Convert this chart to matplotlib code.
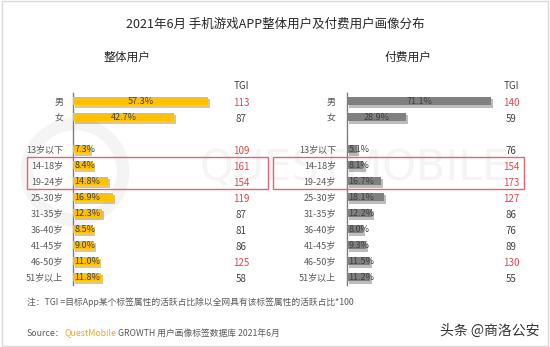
import matplotlib
matplotlib.use('Agg')
import matplotlib.pyplot as plt
import matplotlib.patheffects as pe
from matplotlib.patches import Rectangle, Circle
from matplotlib.transforms import blended_transform_factory

plt.rcParams['font.family'] = ['Noto Sans CJK SC', 'DejaVu Sans']

# data
categories = ['男', '女', '13岁以下', '14-18岁', '19-24岁', '25-30岁', '31-35岁',
              '36-40岁', '41-45岁', '46-50岁', '51岁以上']
rows = [0, 1, 3, 4, 5, 6, 7, 8, 9, 10, 11]
all_share = [57.3, 42.7, 7.3, 8.4, 14.8, 16.9, 12.3, 8.5, 9.0, 11.0, 11.8]
all_tgi = [113, 87, 109, 161, 154, 119, 87, 81, 86, 125, 58]
pay_share = [71.1, 28.9, 5.1, 8.1, 16.7, 18.1, 12.2, 8.0, 9.3, 11.5, 11.2]
pay_tgi = [140, 59, 76, 154, 173, 127, 86, 76, 89, 130, 55]

W, H = 550, 347
GREY = '#595959'
RED = '#E0474C'

fig = plt.figure(figsize=(5.5, 3.47), dpi=100)
fig.patch.set_facecolor('white')

# faint background logo, kept behind everything in its own axes
bg = fig.add_axes([0, 0, 1, 1], zorder=-5)
bg.set_xlim(0, W)
bg.set_ylim(H, 0)
bg.axis('off')
bg.add_patch(Circle((75, 172), 48, fill=False, ec='#f4f4f4', lw=9))
bg.text(200, 168, 'QUESTMOBILE', fontsize=31, color='#f4f4f4',
        va='center', ha='left', family='DejaVu Sans')


def panel(left_px, width_px, scale, values, tgi, tgi_px, color, shadow, pad, title, title_px):
    ax = fig.add_axes([left_px / W, 62 / H, width_px / W, 192 / H])
    ax.patch.set_alpha(0)
    bars = ax.barh(rows, values, height=0.56, color=color, zorder=3)
    for b in bars:
        b.set_path_effects([pe.SimplePatchShadow(offset=(1.5, -1.5), shadow_rgbFace=shadow, alpha=0.35),
                            pe.Normal()])
    ax.set_xlim(0, width_px / scale)
    ax.set_ylim(11.5, -0.5)
    for s in ['top', 'right', 'bottom']:
        ax.spines[s].set_visible(False)
    ax.spines['left'].set_color('#7f7f7f')
    ax.spines['left'].set_linewidth(1)
    ax.set_xticks([])
    ax.set_yticks(rows, categories)
    ax.tick_params(axis='y', length=0, pad=pad, labelsize=6.5, labelcolor=GREY)

    for i, (r, v) in enumerate(zip(rows, values)):
        if i < 2:
            ax.text(v / 2, r, f'{v:.1f}%', ha='center', va='center', fontsize=6.5,
                    color='#3f3f3f', zorder=4)
        else:
            ax.text(0.6, r, f'{v:.1f}%', ha='left', va='center', fontsize=6.5,
                    color='#3f3f3f', zorder=4)

    tr = blended_transform_factory(fig.transFigure, ax.transData)
    for r, t in zip(rows, tgi):
        ax.text(tgi_px / W, r + 0.1, str(t), transform=tr, ha='center', va='center',
                fontsize=7, color=RED if t > 100 else '#404040')
    fig.text(tgi_px / W, 1 - 86 / H, 'TGI', ha='center', va='center', fontsize=7, color='#404040')
    fig.text(title_px / W, 1 - 57 / H, title, ha='center', va='center', fontsize=8.5, color='#262626')
    return ax


panel(73, 200, 2.36, all_share, all_tgi, 241, '#FFC000', '#7f6000', 7, '整体用户', 127)
panel(347, 190, 2.03, pay_share, pay_tgi, 511, '#808080', '#404040', 8, '付费用户', 408)

fig.text(0.5, 1 - 24 / H, '2021年6月 手机游戏APP整体用户及付费用户画像分布',
         ha='center', va='center', fontsize=9, color='#262626')

# highlight boxes
for x0, x1 in [(27, 268), (273, 524)]:
    fig.add_artist(Rectangle((x0 / W, 1 - 189 / H), (x1 - x0) / W, 32 / H,
                             transform=fig.transFigure, fill=False, ec='#E06670', lw=1, zorder=5))

fig.text(27 / W, 1 - 302 / H, '注：TGI =目标App某个标签属性的活跃占比除以全网具有该标签属性的活跃占比*100',
         ha='left', va='center', fontsize=6.3, color=GREY)

# source line in three colours
fig.canvas.draw()
renderer = fig.canvas.get_renderer()
x = 27 / W
for part, col in [('Source：', GREY), ('QuestMobile', '#F5A623'),
                  (' GROWTH 用户画像标签数据库 2021年6月', GREY)]:
    t = fig.text(x, 1 - 333 / H, part, ha='left', va='center', fontsize=6.3, color=col)
    bb = t.get_window_extent(renderer)
    x = bb.x1 / (W * fig.dpi / 100)

fig.text(540 / W, 1 - 331 / H, '头条 @商洛公安', ha='right', va='center', fontsize=10, color='#333333')

fig.add_artist(Rectangle((0.003, 0.004), 0.993, 0.992, transform=fig.transFigure,
                         fill=False, ec='#d9d9d9', lw=1))

fig.savefig('out.png', dpi=100, facecolor='white')
